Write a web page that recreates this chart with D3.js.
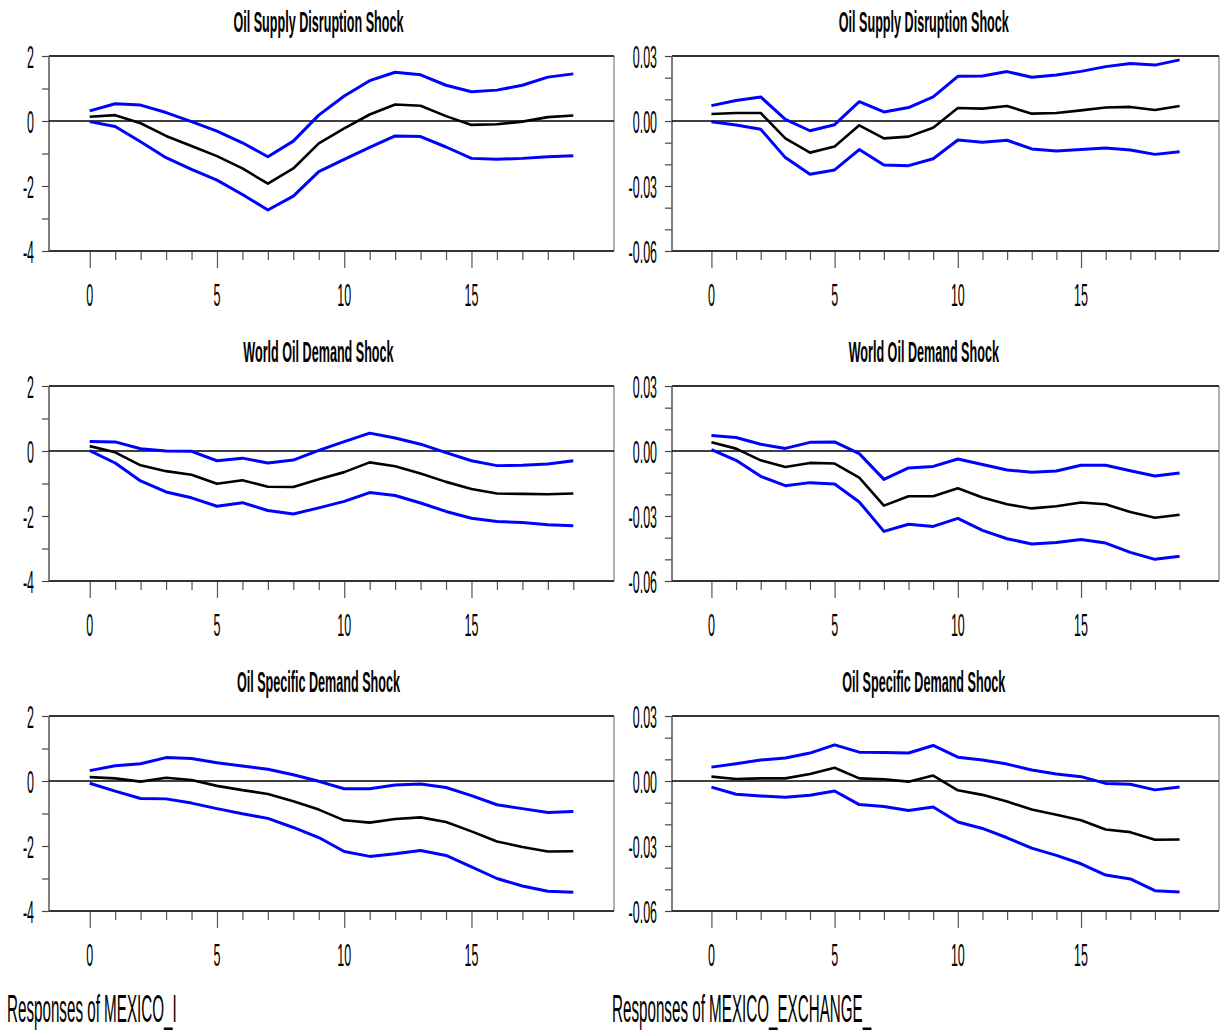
<!DOCTYPE html>
<html>
<head>
<meta charset="utf-8">
<script src="https://cdnjs.cloudflare.com/ajax/libs/d3/7.8.5/d3.min.js"></script>
<style>
body{margin:0;background:#fff;}
svg{display:block;}
text{font-family:"Liberation Sans", Arial, sans-serif;fill:#000;}
</style>
</head>
<body>
<script>
// horizon (periods after the shock)
var periods = [0,1,2,3,4,5,6,7,8,9,10,11,12,13,14,15,16,17,18,19];
var xMajor = [0,5,10,15];

// tick labels
var yTicksI = [2,1,0,-1,-2,-3,-4];
var yLabelsI = {'2':'2','0':'0','-2':'-2','-4':'-4'};
var yTicksFx = [0.03,0.02,0.01,0,-0.01,-0.02,-0.03,-0.04,-0.05,-0.06];
var yLabelsFx = {'0.03':'0.03','0':'0.00','-0.03':'-0.03','-0.06':'-0.06'};

var titles = ['Oil Supply Disruption Shock','World Oil Demand Shock','Oil Specific Demand Shock'];
var footers = ['Responses of MEXICO_I','Responses of MEXICO_EXCHANGE_'];

// MEXICO_I responses
var supplyI      = [0.13,0.18,-0.07,-0.46,-0.77,-1.08,-1.46,-1.93,-1.46,-0.69,-0.23,0.20,0.51,0.47,0.15,-0.12,-0.10,-0.02,0.12,0.17];
var supplyI_hi   = [0.31,0.53,0.49,0.26,-0.02,-0.31,-0.67,-1.10,-0.62,0.18,0.77,1.24,1.50,1.42,1.10,0.90,0.95,1.10,1.35,1.45];
var supplyI_lo   = [-0.02,-0.17,-0.64,-1.13,-1.49,-1.82,-2.26,-2.74,-2.31,-1.56,-1.18,-0.81,-0.46,-0.48,-0.80,-1.15,-1.18,-1.15,-1.10,-1.07];

var worldI       = [0.15,-0.04,-0.44,-0.62,-0.73,-1.01,-0.90,-1.10,-1.11,-0.87,-0.65,-0.35,-0.47,-0.69,-0.95,-1.17,-1.31,-1.32,-1.33,-1.31];
var worldI_hi    = [0.29,0.28,0.07,0.00,-0.01,-0.30,-0.22,-0.37,-0.28,0.02,0.29,0.55,0.40,0.21,-0.05,-0.30,-0.45,-0.44,-0.40,-0.30];
var worldI_lo    = [0.01,-0.37,-0.92,-1.26,-1.44,-1.70,-1.59,-1.83,-1.94,-1.75,-1.55,-1.28,-1.37,-1.60,-1.86,-2.07,-2.17,-2.20,-2.27,-2.30];

var specificI    = [0.12,0.08,-0.02,0.10,0.03,-0.15,-0.28,-0.40,-0.62,-0.88,-1.21,-1.28,-1.17,-1.12,-1.26,-1.55,-1.86,-2.03,-2.17,-2.16];
var specificI_hi = [0.32,0.47,0.53,0.72,0.69,0.56,0.46,0.36,0.19,-0.01,-0.24,-0.24,-0.12,-0.09,-0.20,-0.45,-0.73,-0.85,-0.97,-0.94];
var specificI_lo = [-0.07,-0.31,-0.54,-0.55,-0.68,-0.85,-1.01,-1.15,-1.43,-1.74,-2.17,-2.32,-2.24,-2.14,-2.29,-2.64,-3.00,-3.23,-3.39,-3.42];

// MEXICO_EXCHANGE_ responses
var supplyFx      = [0.0032,0.0037,0.0037,-0.0080,-0.0146,-0.0118,-0.0020,-0.0080,-0.0072,-0.0031,0.0060,0.0057,0.0069,0.0034,0.0037,0.0049,0.0062,0.0065,0.0051,0.0069];
var supplyFx_hi   = [0.0071,0.0095,0.0111,0.0008,-0.0045,-0.0017,0.0089,0.0042,0.0062,0.0111,0.0206,0.0208,0.0228,0.0202,0.0212,0.0229,0.0251,0.0265,0.0258,0.0282];
var supplyFx_lo   = [-0.0003,-0.0018,-0.0038,-0.0169,-0.0246,-0.0226,-0.0132,-0.0203,-0.0206,-0.0174,-0.0088,-0.0098,-0.0089,-0.0129,-0.0138,-0.0131,-0.0125,-0.0134,-0.0154,-0.0142];

var worldFx       = [0.0040,0.0011,-0.0043,-0.0074,-0.0055,-0.0058,-0.0123,-0.0252,-0.0209,-0.0209,-0.0172,-0.0215,-0.0246,-0.0265,-0.0255,-0.0238,-0.0246,-0.0282,-0.0308,-0.0294];
var worldFx_hi    = [0.0072,0.0062,0.0031,0.0012,0.0040,0.0042,-0.0012,-0.0131,-0.0078,-0.0071,-0.0037,-0.0062,-0.0088,-0.0098,-0.0092,-0.0066,-0.0066,-0.0091,-0.0115,-0.0102];
var worldFx_lo    = [0.0006,-0.0043,-0.0117,-0.0160,-0.0146,-0.0152,-0.0235,-0.0371,-0.0338,-0.0348,-0.0311,-0.0366,-0.0405,-0.0429,-0.0422,-0.0408,-0.0425,-0.0468,-0.0500,-0.0486];

var specificFx    = [0.0020,0.0009,0.0012,0.0012,0.0032,0.0061,0.0012,0.0008,-0.0003,0.0025,-0.0043,-0.0064,-0.0095,-0.0132,-0.0156,-0.0181,-0.0224,-0.0236,-0.0271,-0.0270];
var specificFx_hi = [0.0064,0.0080,0.0097,0.0106,0.0129,0.0167,0.0133,0.0132,0.0129,0.0164,0.0110,0.0097,0.0078,0.0051,0.0032,0.0020,-0.0011,-0.0015,-0.0041,-0.0028];
var specificFx_lo = [-0.0028,-0.0061,-0.0069,-0.0075,-0.0066,-0.0046,-0.0109,-0.0118,-0.0136,-0.0120,-0.0189,-0.0219,-0.0262,-0.0310,-0.0343,-0.0382,-0.0434,-0.0452,-0.0506,-0.0512];

var panels = [
    {col:0,row:0,title:titles[0],mid:supplyI,hi:supplyI_hi,lo:supplyI_lo},
    {col:1,row:0,title:titles[0],mid:supplyFx,hi:supplyFx_hi,lo:supplyFx_lo},
    {col:0,row:1,title:titles[1],mid:worldI,hi:worldI_hi,lo:worldI_lo},
    {col:1,row:1,title:titles[1],mid:worldFx,hi:worldFx_hi,lo:worldFx_lo},
    {col:0,row:2,title:titles[2],mid:specificI,hi:specificI_hi,lo:specificI_lo},
    {col:1,row:2,title:titles[2],mid:specificFx,hi:specificFx_hi,lo:specificFx_lo}
];

var W = 1225, H = 1031;
var colLeft = [49, 672], colRight = [614, 1219];
var rowTop = [56, 386, 716], plotH = 195;
var xDomain = [-1.6, 20.6];

var svg = d3.select('body').append('svg').attr('width', W).attr('height', H);

// condensed text: scale glyphs horizontally
function label(g, x, y, str, size, sx, anchor, weight){
    return g.append('text')
        .attr('transform', 'translate(' + x + ',' + y + ') scale(' + sx + ',1)')
        .attr('text-anchor', anchor)
        .style('font-size', size + 'px')
        .style('font-weight', weight || 'normal')
        .text(str);
}

panels.forEach(function(p){
    var left = colLeft[p.col], right = colRight[p.col];
    var top = rowTop[p.row], bottom = top + plotH;
    var isFx = p.col == 1;

    var x = d3.scaleLinear().domain(xDomain).range([left, right]);
    var y = d3.scaleLinear().domain(isFx ? [-0.06, 0.03] : [-4, 2]).range([bottom, top]);
    var yTicks = isFx ? yTicksFx : yTicksI;
    var yLabels = isFx ? yLabelsFx : yLabelsI;

    var g = svg.append('g');

    //y軸 ticks
    var yAxisG = g.append('g')
        .attr('transform', 'translate(' + left + ',0)')
        .call(d3.axisLeft(y).tickValues(yTicks).tickSize(7).tickFormat(''));
    yAxisG.select('.domain').remove();
    yAxisG.selectAll('.tick line').attr('stroke', '#444').attr('stroke-width', 1.2);
    yTicks.forEach(function(t){
        var key = String(+t.toFixed(4));
        if(yLabels[key] !== undefined){
            label(yAxisG, -15, y(t) + 11.5, yLabels[key], 32, 0.39, 'end');
        }
    });

    //x軸 ticks
    var xAxisG = g.append('g')
        .attr('transform', 'translate(0,' + bottom + ')')
        .call(d3.axisBottom(x).tickValues(periods).tickSize(9).tickFormat(''));
    xAxisG.select('.domain').remove();
    xAxisG.selectAll('.tick line')
        .attr('stroke', '#555').attr('stroke-width', 1.2)
        .attr('y2', function(d){ return xMajor.indexOf(d) >= 0 ? 17 : 9; });
    xMajor.forEach(function(t){
        label(xAxisG, x(t), 55, String(t), 32, 0.39, 'middle');
    });

    // frame
    g.append('line').attr('x1', right).attr('x2', right).attr('y1', top).attr('y2', bottom)
        .attr('stroke', '#999').attr('stroke-width', 1.5);
    g.append('line').attr('x1', left).attr('x2', right).attr('y1', top).attr('y2', top)
        .attr('stroke', '#333').attr('stroke-width', 2);
    g.append('line').attr('x1', left).attr('x2', right).attr('y1', bottom).attr('y2', bottom)
        .attr('stroke', '#333').attr('stroke-width', 2);
    g.append('line').attr('x1', left).attr('x2', left).attr('y1', top).attr('y2', bottom)
        .attr('stroke', '#555').attr('stroke-width', 1.5);

    // zero line
    g.append('line').attr('x1', left).attr('x2', right).attr('y1', y(0)).attr('y2', y(0))
        .attr('stroke', '#000').attr('stroke-width', 1.5);

    var line = d3.line()
        .x(function(d, i){ return x(periods[i]); })
        .y(function(d){ return y(d); });

    [p.hi, p.lo].forEach(function(s){
        g.append('path').attr('d', line(s)).attr('fill', 'none')
            .attr('stroke', '#0000ff').attr('stroke-width', 3).attr('stroke-linejoin', 'round');
    });
    g.append('path').attr('d', line(p.mid)).attr('fill', 'none')
        .attr('stroke', '#000').attr('stroke-width', 2.6).attr('stroke-linejoin', 'round');

    // title centred over labels + plot
    var bb = yAxisG.node().getBBox();
    var labelLeft = left + bb.x;
    label(g, (labelLeft + right) / 2, top - 24, p.title, 30, 0.42, 'middle', 'bold');
});

label(svg, 7, 1022, footers[0], 38, 0.4, 'start');
label(svg, 612, 1022, footers[1], 38, 0.4, 'start');
</script>
</body>
</html>
